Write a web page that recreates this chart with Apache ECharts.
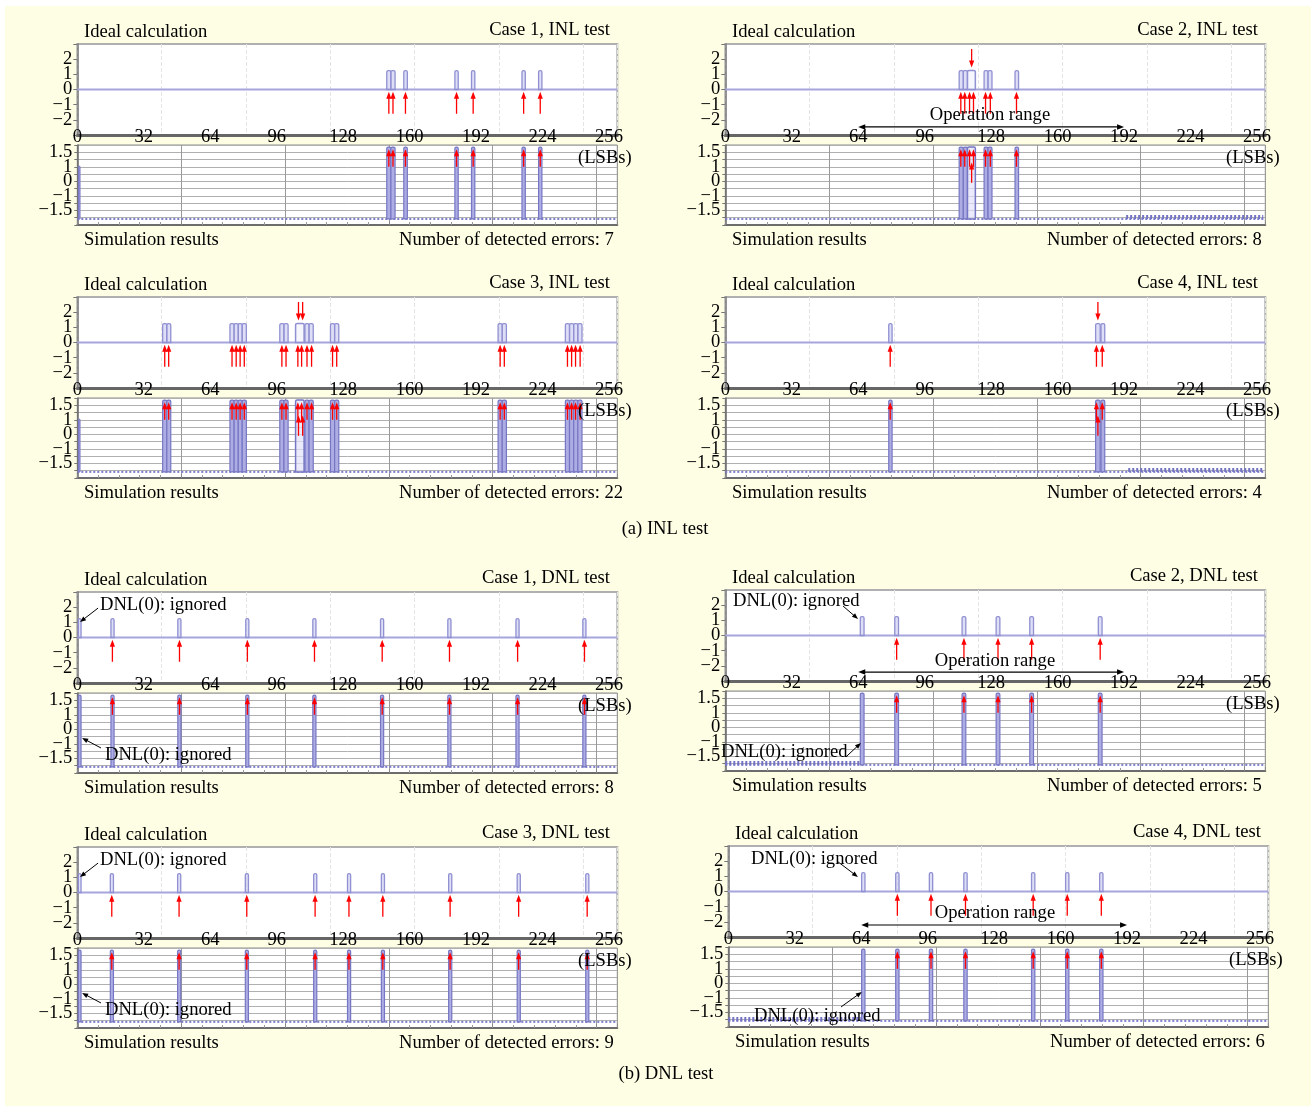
<!DOCTYPE html>
<html><head><meta charset="utf-8"><title>INL / DNL test</title>
<script src="https://cdn.jsdelivr.net/npm/echarts@6.0.0/dist/echarts.min.js"></script>
<style>
html,body{margin:0;padding:0;background:#fff;}
#bg{position:absolute;left:5px;top:6px;width:1306px;height:1100px;background:#fefee5;}
#c{position:absolute;left:0;top:0;width:1311px;height:1106px;}
</style></head><body><div id="bg"></div><div id="c"></div>
<script>
// ---------------- data ----------------
const xTickValues = [0, 32, 64, 96, 128, 160, 192, 224, 256];
const idealYTickValues = [-2, -1, 0, 1, 2];
const idealYTickLabels = ['−2', '−1', '0', '1', '2'];
const simYRows = [-2, -1, 0, 1, 2];
const simYTickLabels = ['−1.5', '−1', '0', '1', '1.5'];
const codeSpan = [0, 260];
const idealPulseTop = 1.25;
const simSpikeTop = 2.36;
const simBase = -2.58;
const simBandLevel = -2.45;
const simStubTop = 1.05;
const opRange = [[64, 192]];

const caseTitles = ['Case 1, INL test', 'Case 2, INL test', 'Case 3, INL test', 'Case 4, INL test',
                    'Case 1, DNL test', 'Case 2, DNL test', 'Case 3, DNL test', 'Case 4, DNL test'];
const errorCounts = [7, 8, 22, 4, 8, 5, 9, 6];

// INL case 1
const inl1Pulses = [[149, 151], [151, 153], [157.2, 158.9], [181.8, 183.4], [189.8, 191.4], [214.1, 215.7], [222.1, 223.7]];
const inl1Up = [150, 152, 158, 182.6, 190.6, 214.9, 222.9];
const inl1Down = [];
const inl1Stubs = [[0.6, 1.3]];
const inl1Band = [];
// INL case 2
const inl2Pulses = [[112.6, 114.6], [114.6, 116.6], [116.6, 120.4], [124.6, 126.5], [126.5, 128.4], [139.5, 141.2]];
const inl2Up = [113.4, 115.3, 117.6, 119.5, 125.3, 127.6, 140.2];
const inl2Down = [118.6];
const inl2Stubs = [];
const inl2Band = [[193, 259]];
// INL case 3
const inl3Pulses = [[41.1, 43.1], [43.1, 45], [73.5, 75.5], [75.5, 77.5], [77.5, 79.4], [79.4, 81.4],
  [97.5, 99.5], [99.5, 101.5], [105.1, 109.2], [109.6, 111.6], [111.6, 113.6], [121.9, 123.9], [123.9, 125.9],
  [202.6, 204.6], [204.6, 206.6], [235, 237], [237, 239], [239, 241], [241, 243]];
const inl3Up = [42.1, 44, 74.5, 76.5, 78.4, 80.4, 98.5, 100.5, 106.2, 108, 110.6, 112.8, 122.9, 124.9,
  203.6, 205.6, 236, 238, 239.9, 242.1];
const inl3Down = [106.5, 108.5];
const inl3Stubs = [[0.6, 1.3]];
const inl3Band = [];
// INL case 4
const inl4Pulses = [[78.7, 80.3], [178.3, 180.5], [180.9, 182.7]];
const inl4Up = [79.4, 178.7, 181.5];
const inl4Down = [179.4];
const inl4Stubs = [];
const inl4Band = [[194, 259]];
// DNL case 1
const dnl1Pulses = [[0.5, 1.8], [16.2, 17.7], [48.4, 49.9], [81.1, 82.6], [113.4, 114.9], [146, 147.5], [178.4, 179.9], [211.2, 212.7], [243.4, 244.9]];
const dnl1Up = [16.9, 49.2, 81.9, 114.2, 146.8, 179.2, 212, 244.2];
const dnl1Band = [];
// DNL case 2
const dnl2Pulses = [[65, 66.8], [81.6, 83.4], [114, 115.8], [130.4, 132.2], [146.6, 148.4], [179.6, 181.4]];
const dnl2Up = [82.5, 114.9, 131.3, 147.5, 180.5];
const dnl2Band = [[0, 65]];
// DNL case 3
const dnl3Pulses = [[0.5, 1.8], [15.9, 17.4], [48.3, 49.8], [80.9, 82.4], [113.8, 115.3], [130.1, 131.6], [146.4, 147.9], [178.8, 180.3], [211.8, 213.3], [244.8, 246.3]];
const dnl3Up = [16.6, 49, 81.6, 114.5, 130.8, 147.1, 179.5, 212.5, 245.5];
const dnl3Band = [];
// DNL case 4
const dnl4Pulses = [[64.2, 65.8], [80.6, 82.2], [96.8, 98.4], [113.4, 115], [146, 147.6], [162.4, 164], [178.8, 180.4]];
const dnl4Up = [81.4, 97.6, 114.2, 146.8, 163.2, 179.6];
const dnl4Band = [[0, 65]];

// ---------------- layout ----------------
const FONT = '"Liberation Serif", "Times New Roman", serif';
const FS = 18.6;
const TY = 1.5; // optical baseline shift for free texts
const panels = [
  {dx: 0,   dy: 0,   pulses: inl1Pulses, up: inl1Up, down: inl1Down, stubs: inl1Stubs, band: inl1Band},
  {dx: 648, dy: 0,   pulses: inl2Pulses, up: inl2Up, down: inl2Down, stubs: inl2Stubs, band: inl2Band,
   op: {y: -2.47, tx: 342, ty: 114}},
  {dx: 0,   dy: 253, pulses: inl3Pulses, up: inl3Up, down: inl3Down, stubs: inl3Stubs, band: inl3Band},
  {dx: 648, dy: 253, pulses: inl4Pulses, up: inl4Up, down: inl4Down, stubs: inl4Stubs, band: inl4Band},
  {dx: 0,   dy: 548, pulses: dnl1Pulses, up: dnl1Up, down: [], stubs: [], band: dnl1Band,
   note: {top: [100, 56], topArrow: [10, 1.94, 1.3, 1.02], bot: [105, 206], botArrow: [11.4, -1.28, 2.3, -0.59]}},
  {dx: 648, dy: 546, pulses: dnl2Pulses, up: dnl2Up, down: [], stubs: [], band: dnl2Band,
   op: {y: -2.41, tx: 347, ty: 114},
   note: {top: [85, 54], topArrow: [56.7, 1.94, 63.9, 1.09], bot: [73, 205], botArrow: [58.1, -2.03, 65.3, -1.07]}},
  {dx: 0,   dy: 803, pulses: dnl3Pulses, up: dnl3Up, down: [], stubs: [], band: dnl3Band,
   note: {top: [100, 56], topArrow: [10, 1.94, 1.3, 1.02], bot: [105, 206], botArrow: [11.4, -1.28, 2.3, -0.59]}},
  {dx: 651, dy: 802, pulses: dnl4Pulses, up: dnl4Up, down: [], stubs: [], band: dnl4Band,
   op: {y: -2.21, tx: 344, ty: 110},
   note: {top: [100, 56], topArrow: [52.3, 2.01, 62.4, 0.96], bot: [103, 213], botArrow: [54.3, -1.62, 64.3, -0.59]}}
];

function arrowShapes(x1, y1, x2, y2, color, lw, hl, hw, both) {
  const dx = x2 - x1, dy = y2 - y1, len = Math.hypot(dx, dy) || 1;
  const ux = dx / len, uy = dy / len, px = -uy, py = ux;
  const head = (tx, ty, sx, sy) => ({type: 'polygon', shape: {points: [[tx, ty],
    [tx - sx * hl + px * hw, ty - sy * hl + py * hw], [tx - sx * hl - px * hw, ty - sy * hl - py * hw]]},
    style: {fill: color}});
  const sx1 = both ? x1 + ux * hl * 0.8 : x1, sy1 = both ? y1 + uy * hl * 0.8 : y1;
  const kids = [{type: 'line', shape: {x1: sx1, y1: sy1, x2: x2 - ux * hl * 0.8, y2: y2 - uy * hl * 0.8},
    style: {stroke: color, lineWidth: lw}}, head(x2, y2, ux, uy)];
  if (both) kids.push(head(x1, y1, -ux, -uy));
  return kids;
}
function vArrowSeries(xi, yi, xs, yFrom, yTo, color, lw, hl, hw) {
  return {type: 'custom', xAxisIndex: xi, yAxisIndex: yi, silent: true, clip: false, z: 6,
    data: xs.map(v => [v, yFrom]),
    renderItem: (params, api) => {
      const a = api.coord([api.value(0), yFrom]), b = api.coord([api.value(0), yTo]);
      return {type: 'group', children: arrowShapes(a[0], a[1], b[0], b[1], color, lw, hl, hw, false)};
    }};
}
function freeArrowSeries(xi, yi, arr, color, lw, hl, hw, both) {
  return {type: 'custom', xAxisIndex: xi, yAxisIndex: yi, silent: true, clip: false, z: 7,
    data: arr,
    renderItem: (params, api) => {
      const a = api.coord([api.value(0), api.value(1)]), b = api.coord([api.value(2), api.value(3)]);
      return {type: 'group', children: arrowShapes(a[0], a[1], b[0], b[1], color, lw, hl, hw, both)};
    }};
}
function rectSeries(xi, yi, intervals, base, top, style, wideStyle) {
  return {type: 'custom', xAxisIndex: xi, yAxisIndex: yi, silent: true, z: 3,
    data: intervals.map(d => [d[0], d[1]]),
    renderItem: (params, api) => {
      const s = api.value(0), e = api.value(1);
      const a = api.coord([s, base]), b = api.coord([e, top]);
      const st = (wideStyle && (e - s) > 3) ? wideStyle : style;
      return {type: 'rect', shape: {x: a[0], y: b[1], width: Math.max(b[0] - a[0], 1.5), height: a[1] - b[1], r: [1.5, 1.5, 0, 0]}, style: st};
    }};
}
function hLine(xi, yi, x0, x1, y, lineStyle, z) {
  return {type: 'line', xAxisIndex: xi, yAxisIndex: yi, silent: true, symbol: 'none', z: z || 2,
    data: [[x0, y], [x1, y]], lineStyle: lineStyle};
}

const grids = [], xAxes = [], yAxes = [], series = [], graphics = [];
const T = (x, y, text, align) => ({type: 'text', x: x, y: y + TY, z: 100, silent: true,
  style: {text: text, font: FS + 'px ' + FONT, fill: '#000', align: align || 'left', verticalAlign: 'middle'}});

panels.forEach((p, i) => {
  const L = 77.3 + p.dx, W = 540;
  const gT = grids.length;
  grids.push({left: L, top: 44 + p.dy, width: W, height: 91, show: true, backgroundColor: '#fff', borderColor: '#b0b0b0', borderWidth: 2});
  const gB = grids.length;
  grids.push({left: L, top: 145 + p.dy, width: W, height: 80, show: true, backgroundColor: '#fff', borderColor: '#8c8c8c', borderWidth: 1});

  const xT = xAxes.length;
  xAxes.push({gridIndex: gT, type: 'value', min: codeSpan[0], max: codeSpan[1], interval: 32, position: 'bottom',
    axisLine: {show: true, onZero: false, lineStyle: {color: '#666', width: 3}},
    axisTick: {show: false}, splitLine: {show: false},
    axisLabel: {show: true, margin: -7.5, fontSize: FS, fontFamily: FONT, color: '#000', showMaxLabel: false,
      formatter: v => xTickValues.includes(v) ? String(v) : ''}});
  xAxes.push({gridIndex: gT, type: 'value', min: codeSpan[0], max: codeSpan[1], interval: 40.6, position: 'top',
    axisLine: {show: false}, axisTick: {show: false}, axisLabel: {show: false},
    splitLine: {show: true, lineStyle: {color: '#e4e4e4', type: 'dashed'}}});
  const xB = xAxes.length;
  xAxes.push({gridIndex: gB, type: 'value', min: codeSpan[0], max: codeSpan[1], interval: 50, position: 'bottom',
    axisLine: {show: true, onZero: false, lineStyle: {color: '#6c6c6c', width: 2}},
    axisTick: {show: true, inside: true, length: 4, lineStyle: {color: '#888'}},
    minorTick: {show: true, splitNumber: 5, length: 3, lineStyle: {color: '#999'}},
    axisLabel: {show: false},
    splitLine: {show: true, lineStyle: {color: '#9a9a9a'}}});

  const yT = yAxes.length;
  yAxes.push({gridIndex: gT, type: 'value', min: -3, max: 3, interval: 1,
    axisLine: {show: true, lineStyle: {color: '#777', width: 1.5}},
    axisTick: {show: true, length: 4, lineStyle: {color: '#777'}},
    splitLine: {show: false},
    axisLabel: {fontSize: FS, fontFamily: FONT, color: '#000', margin: 5, padding: [3, 0, 0, 0],
      formatter: v => { const k = idealYTickValues.indexOf(v); return k < 0 ? '' : idealYTickLabels[k]; }}});
  const yB = yAxes.length;
  yAxes.push({gridIndex: gB, type: 'value', min: -3, max: 2.5, interval: 0.5,
    axisLine: {show: true, lineStyle: {color: '#666', width: 1.5}},
    axisTick: {show: true, length: 3, lineStyle: {color: '#777'}},
    splitLine: {show: true, lineStyle: {color: '#b0b0b0'}},
    axisLabel: {fontSize: FS, fontFamily: FONT, color: '#000', margin: 5, padding: [3, 0, 0, 0],
      formatter: v => { const k = simYRows.indexOf(v); return k < 0 ? '' : simYTickLabels[k]; }}});

  // ideal calculation
  series.push(hLine(xT, yT, codeSpan[0], codeSpan[1], 0, {color: '#a6a6dd', width: 2}, 2));
  series.push(rectSeries(xT, yT, p.pulses, 0, idealPulseTop,
    {fill: 'rgba(200,200,240,0.6)', stroke: '#9090d2', lineWidth: 1.3},
    {fill: 'rgba(240,240,252,0.6)', stroke: '#9090d2', lineWidth: 1.5}));
  series.push(vArrowSeries(xT, yT, p.up, -1.6, -0.15, '#ff0000', 1.3, 7, 2.6));
  series.push(vArrowSeries(xT, yT, p.down, 2.67, 1.45, '#ff0000', 1.3, 7, 2.6));

  // simulation results
  series.push(hLine(xB, yB, codeSpan[0], codeSpan[1], simBase, {color: '#7d7dcb', width: 2, type: 'dotted'}, 2));
  p.band.forEach(b => series.push(hLine(xB, yB, b[0], b[1], simBandLevel, {color: '#7474c6', width: 4, type: [2, 2]}, 2)));
  series.push(rectSeries(xB, yB, p.pulses, simBase, simSpikeTop,
    {fill: '#adade3', stroke: '#7676c4', lineWidth: 1.2},
    {fill: 'rgba(225,225,248,0.7)', stroke: '#7676c4', lineWidth: 1.5}));
  if (p.stubs.length) series.push(rectSeries(xB, yB, p.stubs, simBase, simStubTop,
    {fill: '#9b9bdc', stroke: '#7a7ac6', lineWidth: 1}));
  series.push(vArrowSeries(xB, yB, p.up, 1.0, 2.2, '#ff0000', 1.3, 7, 2.6));
  series.push(vArrowSeries(xB, yB, p.down, -0.1, 1.3, '#ff0000', 1.3, 7, 2.6));

  // annotations
  if (p.op) {
    series.push(freeArrowSeries(xT, yT, opRange.map(r => [r[0], p.op.y, r[1], p.op.y]), '#000', 1.2, 7, 2.8, true));
    graphics.push(T(p.op.tx + p.dx, p.op.ty + p.dy, 'Operation range', 'center'));
  }
  if (p.note) {
    series.push(freeArrowSeries(xT, yT, [p.note.topArrow], '#000', 1, 6, 2.4, false));
    series.push(freeArrowSeries(xB, yB, [p.note.botArrow], '#000', 1, 6, 2.4, false));
    graphics.push(T(p.note.top[0] + p.dx, p.note.top[1] + p.dy, 'DNL(0): ignored'));
    graphics.push(T(p.note.bot[0] + p.dx, p.note.bot[1] + p.dy, 'DNL(0): ignored'));
  }

  // panel texts
  graphics.push(T(84 + p.dx, 31 + p.dy, 'Ideal calculation'));
  graphics.push(T(610 + p.dx, 29 + p.dy, caseTitles[i], 'right'));
  graphics.push(T(578 + p.dx, 157 + p.dy, '(LSBs)'));
  graphics.push(T(84 + p.dx, 239 + p.dy, 'Simulation results'));
  graphics.push(T(399 + p.dx, 239 + p.dy, 'Number of detected errors: ' + errorCounts[i]));
});

graphics.push(T(665, 528, '(a) INL test', 'center'));
graphics.push(T(666, 1073, '(b) DNL test', 'center'));

const chart = echarts.init(document.getElementById('c'), null, {renderer: 'canvas'});
chart.setOption({
  animation: false,
  backgroundColor: 'transparent',
  grid: grids, xAxis: xAxes, yAxis: yAxes, series: series,
  graphic: {elements: graphics}
});
</script></body></html>
